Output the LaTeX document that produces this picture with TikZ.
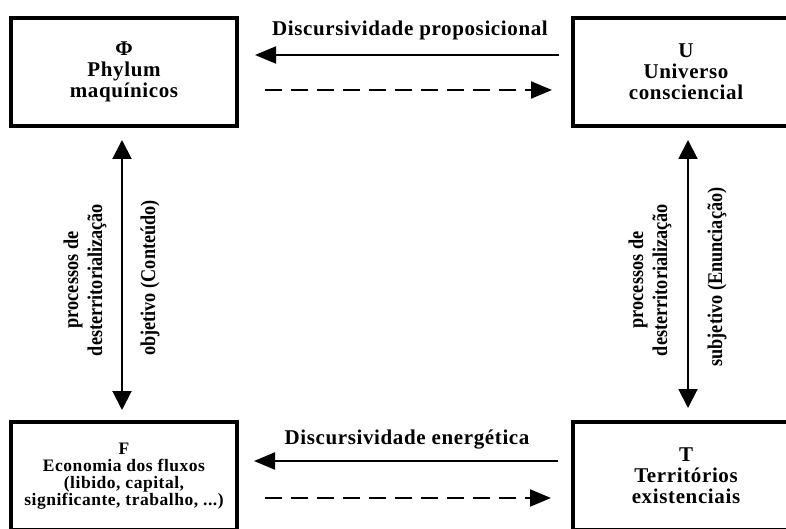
\documentclass[tikz,border=0pt]{standalone}
\usepackage{fontspec}
\setmainfont{Liberation Serif}
\newfontfamily\wideserif{Liberation Serif}[LetterSpace=3]
\usetikzlibrary{positioning,arrows.meta}
\tikzset{
box/.style={draw, line width=4pt, minimum width=226pt, minimum height=108pt, align=center, inner sep=0pt, font=\wideserif\fontsize{21}{21}\selectfont\bfseries},
link/.style={line width=2pt, -{Triangle[length=21pt,width=17pt]}},
dlink/.style={link, dash pattern=on 17pt off 9pt},
vlink/.style={line width=2pt, {Triangle[length=19pt,width=19pt]}-{Triangle[length=19pt,width=19pt]}},
lbl/.style={font=\wideserif\fontsize{21}{21}\selectfont\bfseries},
vlbl/.style={rotate=90, xscale=0.87, align=center, font=\fontsize{21}{24}\selectfont\bfseries}
}
\begin{document}
\begin{tikzpicture}[x=1pt,y=-1pt]
\useasboundingbox (0,0) rectangle (786,529);
\clip (0,0) rectangle (786,529);

\node[box] (Phi) at (124,72) {Φ\\Phylum\\maquínicos};
\node[box] (U) at (686,72) {U\\Universo\\consciencial};
\node[box, font=\wideserif\fontsize{17.5}{17}\selectfont\bfseries] (F) at (124,476) {F\\Economia dos fluxos\\(libido, capital,\\significante, trabalho, ...)};
\node[box] (T) at (686,476) {T\\Territórios\\existenciais};

\draw[link, shorten <=12pt, shorten >=16pt] ([yshift=17pt]U.west) -- ([yshift=17pt]Phi.east)
  node[lbl, midway, above=11pt, xshift=5pt] {Discursividade proposicional};
\draw[dlink, shorten <=26pt, shorten >=19pt] ([yshift=-18pt]Phi.east) -- ([yshift=-18pt]U.west);

\draw[link, shorten <=13pt, shorten >=15pt] ([yshift=15pt]T.west) -- ([yshift=15pt]F.east)
  node[lbl, midway, above=8pt, xshift=2pt] {Discursividade energética};
\draw[dlink, shorten <=26pt, shorten >=20pt] ([yshift=-22pt]F.east) -- ([yshift=-22pt]T.west);

\draw[vlink, shorten <=12pt, shorten >=10pt] ([xshift=-2pt]Phi.south) -- ([xshift=-2pt]F.north);
\draw[vlink, shorten <=12pt, shorten >=12pt] ([xshift=2pt]U.south) -- ([xshift=2pt]T.north);

\node[vlbl] (pl) at (85,280) {processos de\\desterritorialização};
\node[vlbl] (ol) at (150,278) {objetivo (Conteúdo)};
\node[vlbl] (pr) at (650,280) {processos de\\desterritorialização};
\node[vlbl] (sr) at (717,277) {subjetivo (Enunciação)};
\end{tikzpicture}
\end{document}
